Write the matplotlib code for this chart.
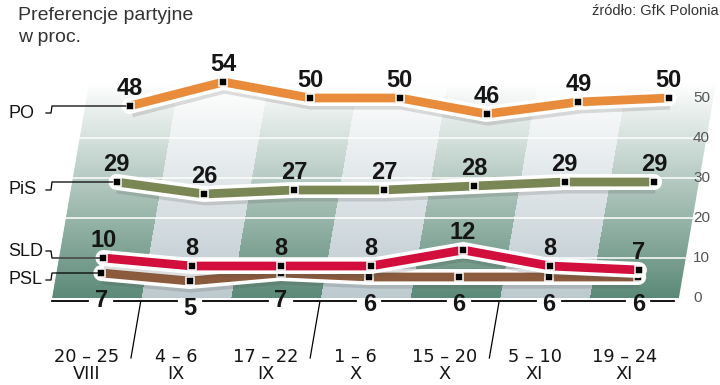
import numpy as np
import matplotlib
matplotlib.use("Agg")
import matplotlib.pyplot as plt
from matplotlib import transforms, font_manager
from matplotlib import patheffects as pe
from matplotlib.patches import Polygon

# survey periods
days = ["20 – 25", "4 – 6", "17 – 22", "1 – 6", "15 – 20", "5 – 10", "19 – 24"]
months = ["VIII", "IX", "IX", "X", "X", "XI", "XI"]
month_breaks = [0.5, 2.5, 4.5]

# party support in %
parties = ["PO", "PiS", "SLD", "PSL"]
po = [48, 54, 50, 50, 46, 49, 50]
pis = [29, 26, 27, 27, 28, 29, 29]
sld = [10, 8, 8, 8, 12, 8, 7]
psl = [7, 5, 7, 6, 6, 6, 6]
y_ticks = [0, 10, 20, 30, 40, 50]
grid_vals = [10, 20, 30, 40]

FONT = "Liberation Sans"


def has_font(name):
    try:
        font_manager.findfont(name, fallback_to_default=False)
        return True
    except ValueError:
        return False


if has_font("Liberation Sans Narrow"):
    NUM_FONT, NUM_SIZE = "Liberation Sans Narrow", 19
else:
    NUM_FONT, NUM_SIZE = FONT, 17

fig = plt.figure(figsize=(7.2, 3.85), dpi=100)
ax = fig.add_axes([0, 0, 1, 1])

# skewed "floor": (index, value) -> pixel coords
plane = transforms.Affine2D(np.array([[89.6, 0.69, 96.5],
                                      [0.0, -4.0, 298.0],
                                      [0.0, 0.0, 1.0]]))
tr = plane + ax.transData

# background stripes with vertical fade to white
dark = np.array([0.36, 0.54, 0.47])
light = np.array([0.74, 0.79, 0.81])
top_v = 54
vv = np.linspace(0, top_v, 270)
fade = np.clip(vv / top_v, 0, 1)[:, None, None]
cols = np.array([dark if k % 2 == 0 else light for k in range(7)])
cols = np.repeat(cols, 20, axis=0)
rgb = cols[None, :, :] * (1 - fade) + fade
img = np.concatenate([rgb, np.ones(rgb.shape[:2] + (1,))], axis=2)
im = ax.imshow(img, extent=(-0.5, 6.5, 0, top_v), origin="lower", transform=tr,
               interpolation="nearest", aspect="auto", zorder=0)
clip = Polygon([(-0.5, 0), (6.5, 0), (6.5, top_v), (-0.5, top_v)],
               closed=True, transform=tr, facecolor="none", edgecolor="none")
ax.add_patch(clip)
im.set_clip_path(clip)

for g in grid_vals:
    ax.plot([-0.5, 6.58], [g, g], color="white", lw=1.1, transform=tr, zorder=1)

styles = {
    "PO": dict(vals=po, color="#e88c3c", z=6, dy=0, hook=7),
    "PiS": dict(vals=pis, color="#7a8755", z=5, dy=0, hook=8),
    "SLD": dict(vals=sld, color="#d20f3c", z=4, dy=0, hook=-7),
    "PSL": dict(vals=psl, color="#8c5a3c", z=3, dy=3, hook=7),
}

xs = np.arange(len(days))
for name in ["PSL", "SLD", "PiS", "PO"]:
    st = styles[name]
    t_s = tr + transforms.Affine2D().translate(0, -st["dy"])
    ax.plot(xs, st["vals"], color=st["color"], lw=6.3, solid_capstyle="butt",
            solid_joinstyle="miter", transform=t_s, zorder=st["z"],
            path_effects=[pe.SimpleLineShadow(offset=(0.8, -1.8), shadow_color="0.3",
                                              alpha=0.18, linewidth=13),
                          pe.Stroke(linewidth=11.5, foreground="white",
                                    capstyle="round", joinstyle="round"),
                          pe.Normal()])
    ax.plot(xs, st["vals"], ls="none", marker="s", ms=5.8, mfc="black",
            mec="white", mew=1.1, transform=t_s, zorder=st["z"] + 0.1)

    if name == "PSL":
        lab_tr = transforms.offset_copy(t_s, fig, y=-34, units="dots")
    else:
        lab_tr = transforms.offset_copy(t_s, fig, y=11, units="dots")
    for i, v in enumerate(st["vals"]):
        ax.text(i, v, str(v), transform=lab_tr, ha="center", va="baseline",
                fontsize=NUM_SIZE, fontweight="bold", family=NUM_FONT,
                color="#151515", zorder=10)

    # party name with connector
    mx, my = plane.transform((0, st["vals"][0]))
    my += st["dy"]
    ly = my + st["hook"]
    ax.plot([46, 51, 52, mx - 4], [ly, ly, my, my], color="black", lw=0.9,
            zorder=9)
    ax.text(8, ly, name, ha="left", va="center", fontsize=13, family=FONT,
            color="#151515", zorder=10)

# baseline with gaps under bottom labels
lab_x = [plane.transform((i, v))[0] for i, v in enumerate(psl)]
left_x = plane.transform((-0.5, 0))[0]
right_x = plane.transform((6.45, 0))[0]
edges = [left_x] + [x for lx in lab_x for x in (lx - 13, lx + 13)] + [right_x]
for a, b in zip(edges[0::2], edges[1::2]):
    ax.plot([a, b], [301, 301], color="black", lw=1.3, zorder=8)

for b in month_breaks:
    ax.plot([b, b], [-1, -15], color="black", lw=0.9, transform=tr, zorder=8)

for i in xs:
    x0 = plane.transform((i, 0))[0] - 10
    ax.text(x0, 362, days[i], ha="center", va="baseline", fontsize=12.8,
            family="DejaVu Sans", color="#151515")
    ax.text(x0, 379, months[i], ha="center", va="baseline", fontsize=12.8,
            family="DejaVu Sans", color="#151515")

tick_tr = transforms.blended_transform_factory(ax.transData, tr)
for v in y_ticks:
    ax.text(693, v, str(v), transform=tick_tr, ha="left", va="center",
            fontsize=11, family=FONT, color="#555555")

ax.text(18, 20, "Preferencje partyjne", ha="left", va="baseline", fontsize=14,
        family=FONT, color="#333333")
ax.text(18, 42, "w proc.", ha="left", va="baseline", fontsize=14,
        family=FONT, color="#333333")
ax.text(719, 15, "źródło: GfK Polonia", ha="right", va="baseline", fontsize=10.5,
        family=FONT, color="#333333")

ax.set_xlim(0, 720)
ax.set_ylim(385, 0)
ax.axis("off")
fig.savefig("out.png", dpi=100)
